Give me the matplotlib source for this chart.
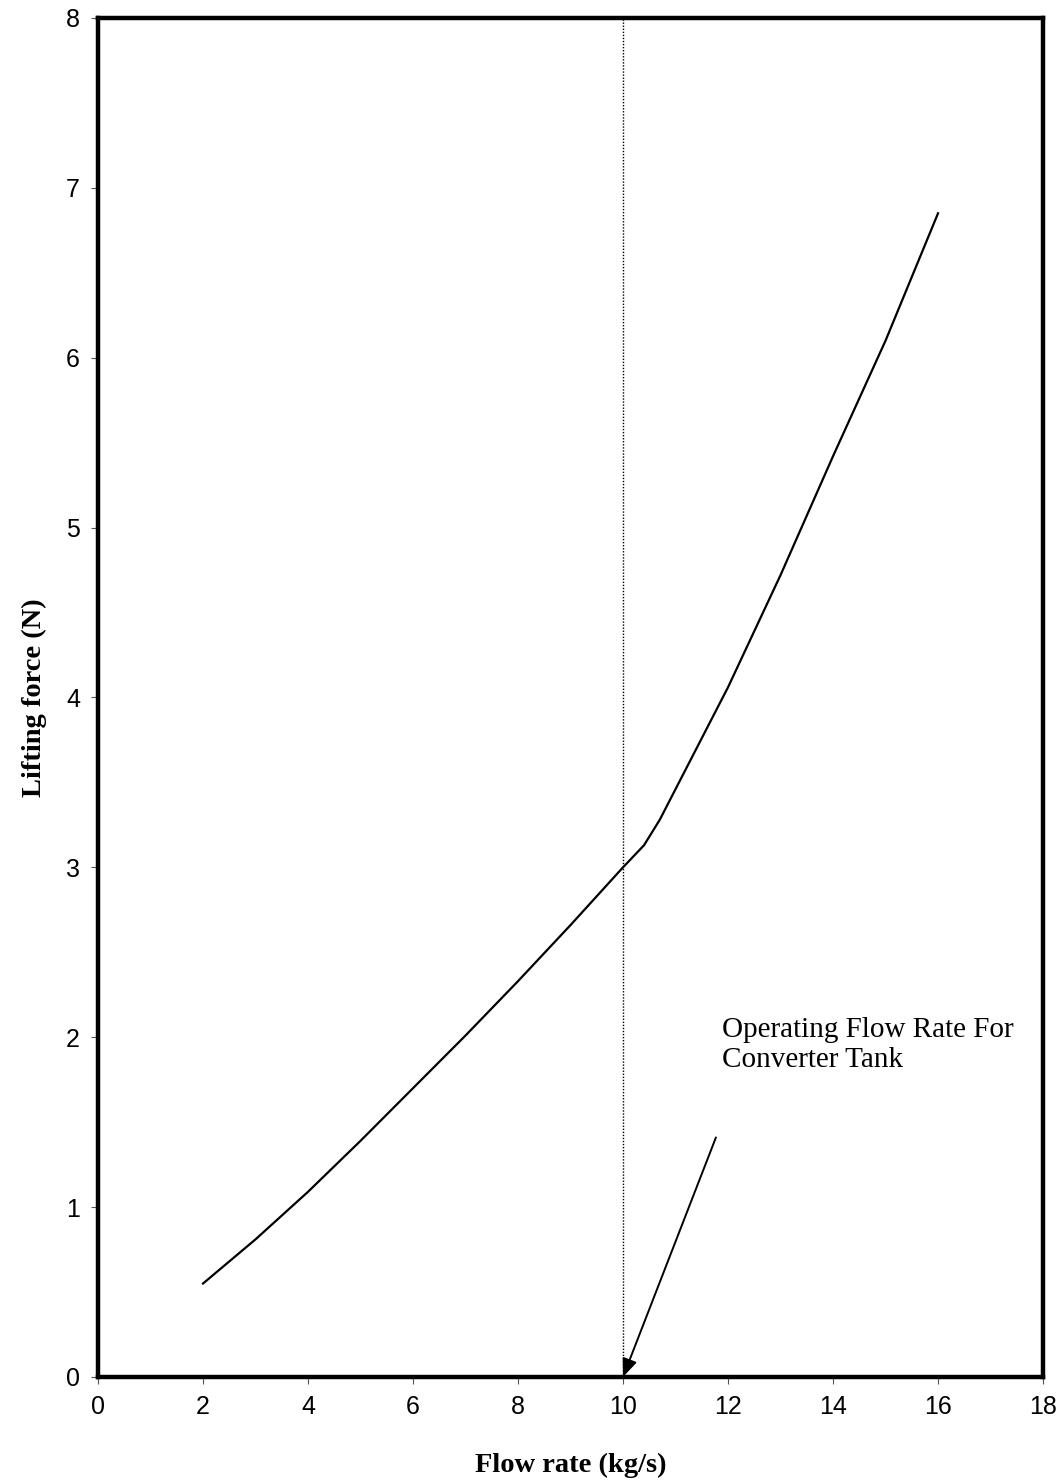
import matplotlib.pyplot as plt
import numpy as np

# lifting force curve
flow_rate = [2, 3, 4, 5, 6, 7, 8, 9, 10, 10.4, 10.7, 11, 12, 13, 14, 15, 16]
lift_force = [0.55, 0.81, 1.09, 1.39, 1.70, 2.01, 2.33, 2.66, 3.0, 3.13, 3.28,
              3.46, 4.06, 4.72, 5.42, 6.10, 6.85]

operating_flow = 10
x_ticks = np.arange(0, 19, 2)
y_ticks = np.arange(0, 9, 1)

fig = plt.figure(figsize=(10.63, 14.83), dpi=100)
ax = fig.add_axes([0.0922, 0.0715, 0.8890, 0.9164])

ax.plot(flow_rate, lift_force, color='black', lw=1.6)

# operating point marker
ax.axvline(operating_flow, color='black', lw=1.0, ls=(0, (1, 1.2)))
ax.annotate('', xy=(operating_flow, 0), xytext=(11.77, 1.41),
            arrowprops=dict(arrowstyle='-|>,head_length=1.1,head_width=0.45',
                            color='black', lw=1.4, shrinkA=0, shrinkB=0))
ax.text(11.88, 2.12, 'Operating Flow Rate For\nConverter Tank',
        family='Liberation Serif', fontsize=21, va='top', ha='left',
        linespacing=1.2)

ax.set_xlim(0, 18)
ax.set_ylim(0, 8)
ax.set_xticks(x_ticks)
ax.set_yticks(y_ticks)
ax.tick_params(direction='out', length=5, width=0.8, color='#555555',
               labelsize=18, pad=8)
for lab in ax.get_xticklabels() + ax.get_yticklabels():
    lab.set_family('Liberation Sans')

for sp in ax.spines.values():
    sp.set_linewidth(3.2)

ax.set_xlabel('Flow rate (kg/s)', family='Liberation Serif', fontweight='bold',
              fontsize=20.5, labelpad=24)
ax.set_ylabel('Lifting force (N)', family='Liberation Serif', fontweight='bold',
              fontsize=20.5, labelpad=14)

fig.savefig('out.png', dpi=100)
